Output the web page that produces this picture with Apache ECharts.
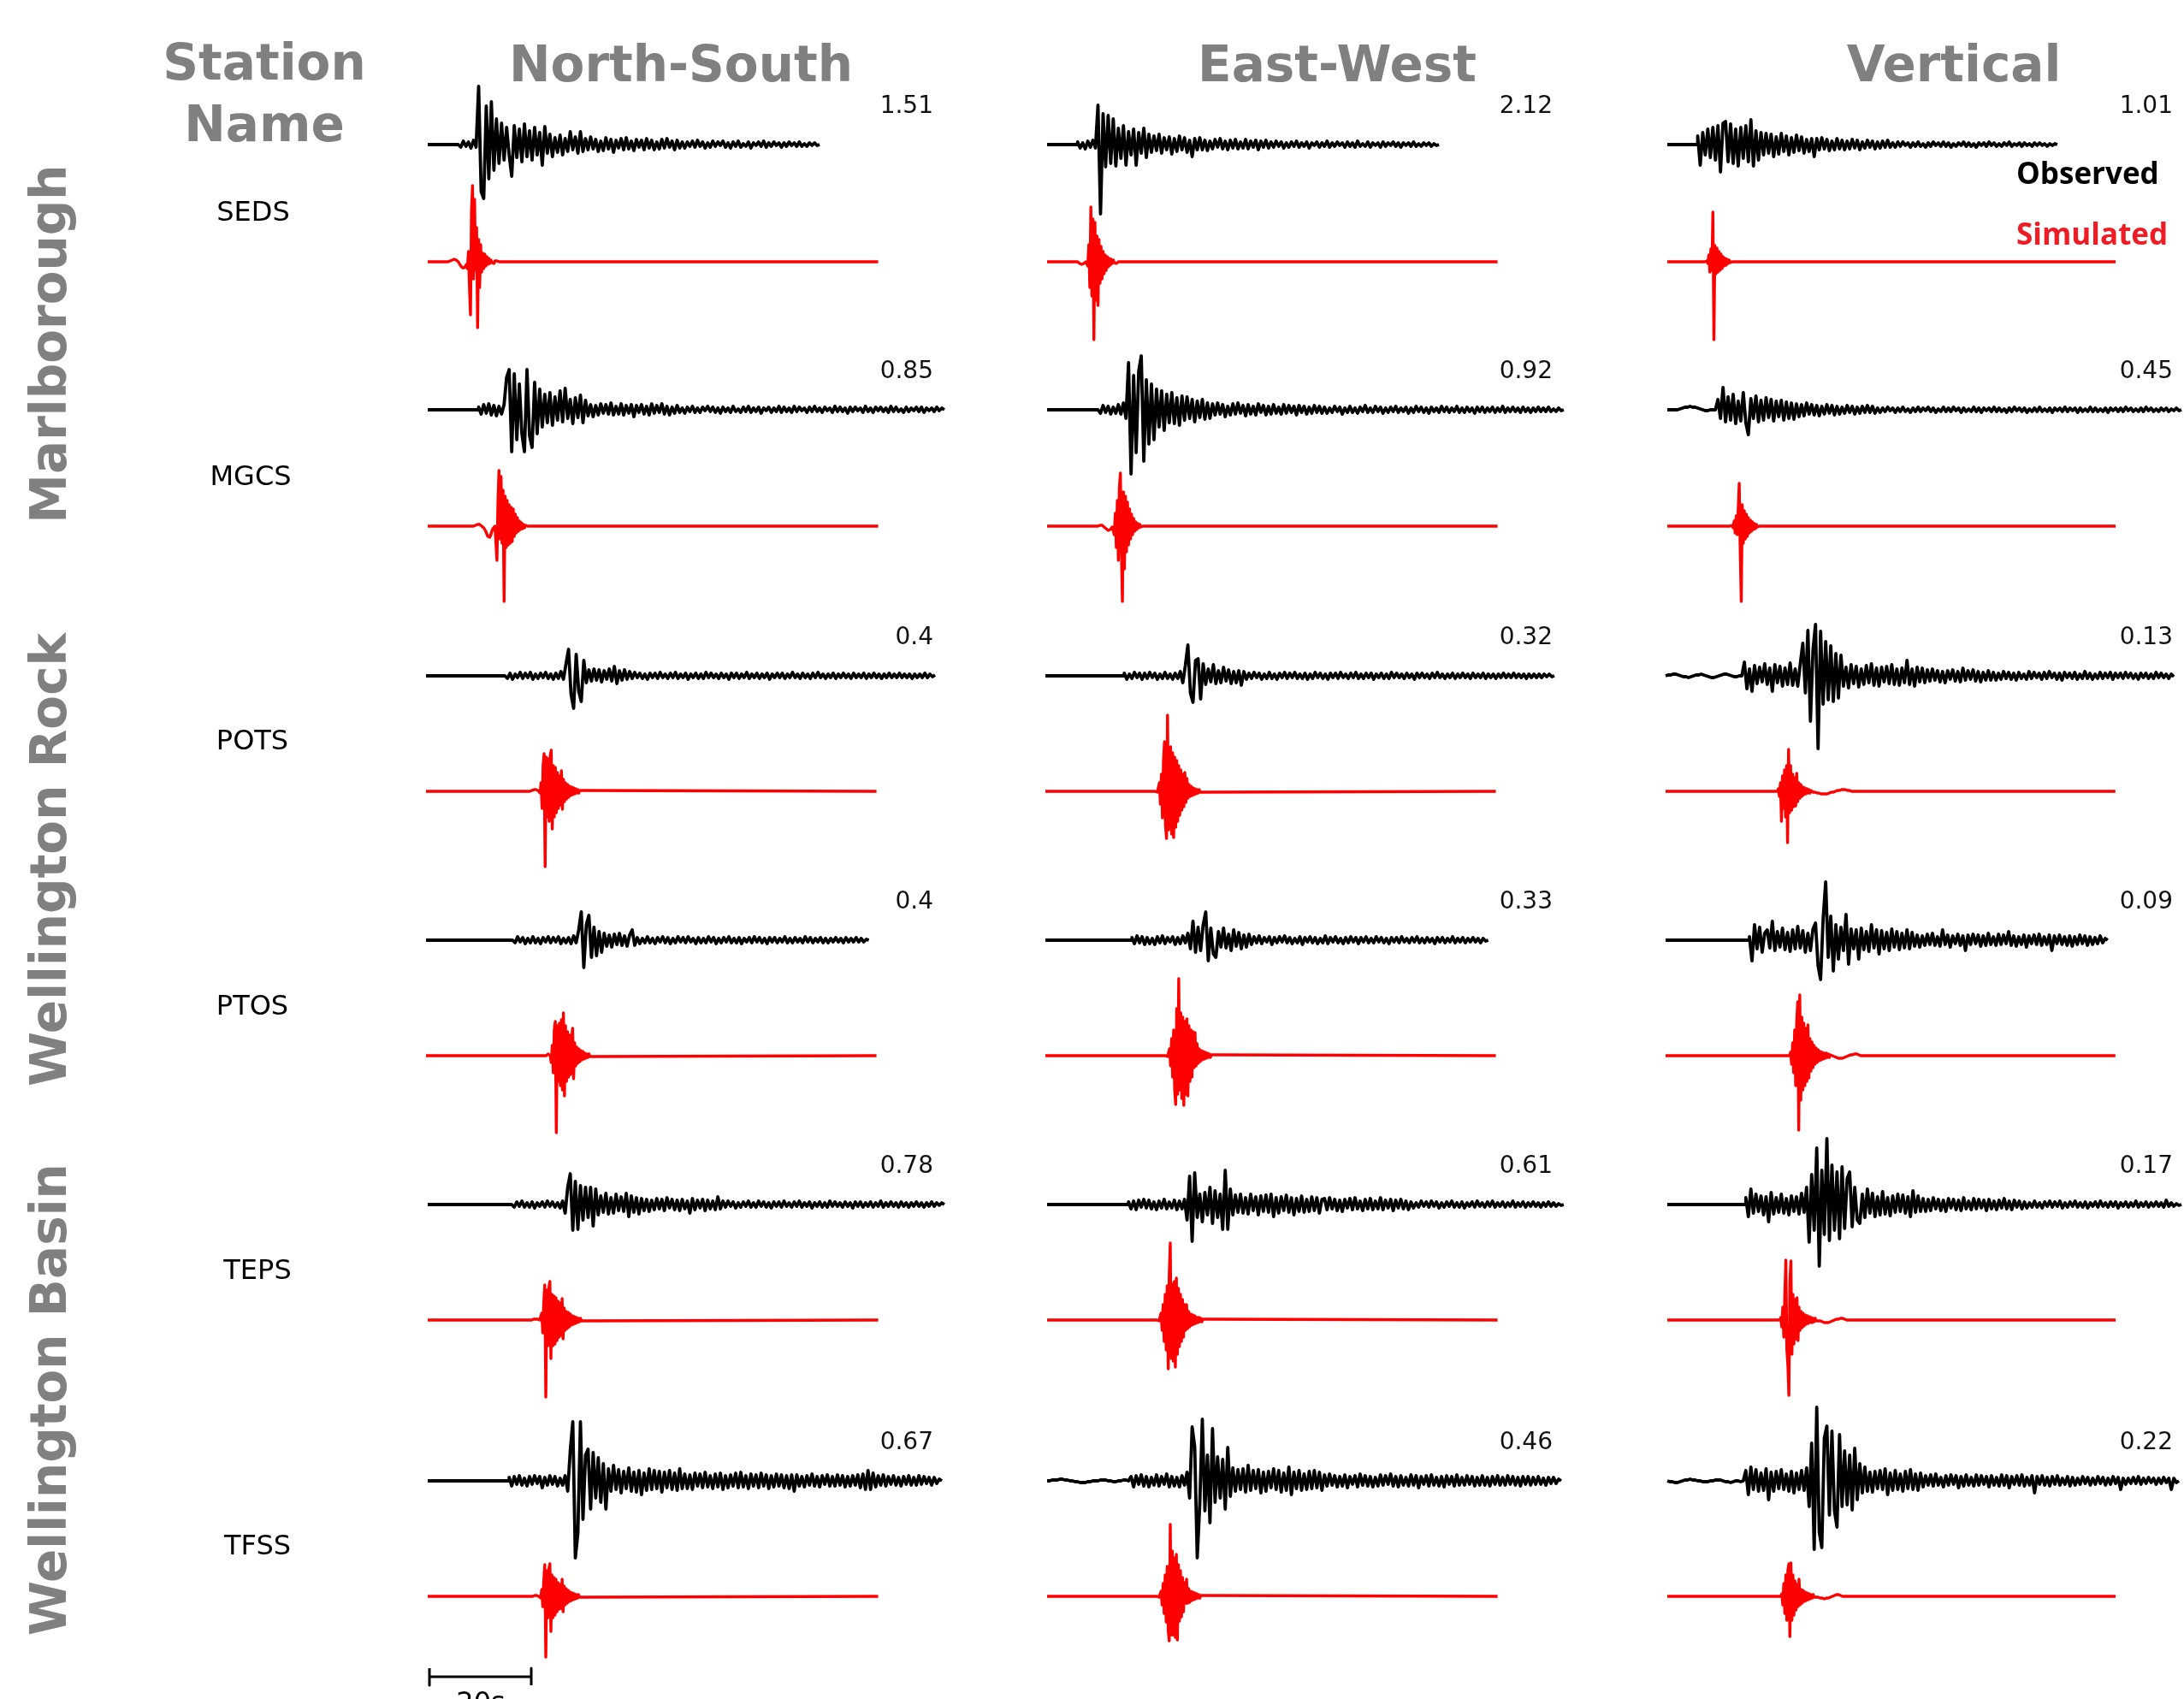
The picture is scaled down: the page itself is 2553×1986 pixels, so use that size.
<!DOCTYPE html>
<html><head><meta charset="utf-8">
<script src="https://cdn.jsdelivr.net/npm/echarts/dist/echarts.min.js"></script>
<style>html,body{margin:0;padding:0;background:#fff;overflow:hidden}#c{width:2553px;height:1986px}</style>
</head><body><div id="c"></div><script>
// ---------------- data ----------------
const stations = ['SEDS','MGCS','POTS','PTOS','TEPS','TFSS'];
const components = ['North-South','East-West','Vertical'];
const regionNames = ['Marlborough','Wellington Rock','Wellington Basin'];
const peakLabels = [['1.51','2.12','1.01'],['0.85','0.92','0.45'],['0.4','0.32','0.13'],['0.4','0.33','0.09'],['0.78','0.61','0.17'],['0.67','0.46','0.22']];
const OBS_DT = 0.5, SIM_DT = 0.2, SIM_END = 88.5, SCALE_BAR_S = 20;
// start time (s) of each trace's sample array [NS, EW, Z]
const obsStart = [[6,6,6],[10,10,2],[15.5,15.5,0],[17,17,16.5],[16.5,16,15.5],[16,0,0]];
const simStart = [[4,6,7],[9,10,12],[20.4,21.6,22],[23.6,23.6,24.4],[20.4,21.6,22.2],[20.6,21.6,22.4]];

// observed traces (dt 0.5 s)
const obsSEDS_NS = [2,-3,4,-2,3,-4,5,-3,68,-55,-63,45,-40,50,-30,30,-22,25,-18,20,-12,-37,22,-15,18,-20,24,-14,16,-18,20,-12,14,-24,21,-10,12,-14,8,-9,11,-12,7,-8,15,-6,9,-10,15,-8,7,-6,9,-5,6,-8,4,-7,8,-5,6,-9,5,-4,7,-6,8,-5,4,-7,6,-3,5,-6,7,-4,5,-6,3,-5,6,-4,7,-3,4,-6,5,-4,3,-4,3,-2,4,-3,5,-2,3,-4,2,-3,4,-2,3,-1,4,-3,2,-4,3,-2,4,-3,1,-2,3,-4,2,-1,3,-2,4,-3,2,-2,3,-1,2,-3,2,-2,3,-1,2,-2,3,-2,1,-2,2,-1,2,-1,0];
const obsSEDS_EW = [3,-4,2,-5,4,-3,5,-4,46,-81,36,-26,34,-22,30,-25,19,-16,22,-24,15,-12,18,-24,14,-10,19,-15,12,-9,10,-7,12,-10,8,-6,9,-11,7,-8,10,-6,8,-9,5,-14,7,-6,8,-6,5,-7,4,-5,6,-3,7,-5,4,-6,5,-4,6,-5,3,-4,6,-5,4,-3,5,-6,4,-3,5,-4,3,-3,4,-2,3,-4,2,-3,3,-2,4,-3,2,-2,3,-4,2,-1,3,-3,2,-2,4,-3,2,-2,3,-1,2,-3,3,-2,2,-3,4,-2,1,-2,3,-3,2,-1,2,-3,3,-2,2,-1,3,-2,2,-3,2,-1,2,-2,3,-2,1,-2,2,-1,2,-2,1,-1,0];
const obsSEDS_Z = [10,-24,14,-12,18,-15,20,-18,22,-32,25,27,-20,24,-22,18,-25,20,-16,22,-20,29,-25,16,-18,14,-12,13,-10,12,-14,9,-11,13,-8,10,-12,8,-9,11,-7,9,-10,6,-8,7,-14,7,-6,8,-5,6,-7,4,-6,7,-5,5,-6,4,-5,6,-4,5,-6,3,-4,5,-3,4,-5,3,-4,4,-3,5,-3,2,-3,3,-2,3,-1,2,-3,2,-2,3,-2,1,-3,2,-2,3,-1,2,-2,3,-2,2,-3,1,-2,2,-1,3,-2,2,-2,1,-3,2,-1,2,-2,3,-1,2,-2,1,-2,2,-1,3,-2,1,-1,2,-2,2,-1,1,-2,2,-1,2,-1,1,-2,1,-1,1,0];
const obsMGCS_NS = [3,-5,6,-4,7,-6,5,-7,4,-5,6,38,47,-49,42,-35,30,-28,-49,47,-30,-44,32,-28,24,-20,18,-15,20,-18,15,-12,22,-14,25,-10,12,-16,14,-9,17,-15,11,-7,6,-8,5,-6,7,-4,6,-5,8,-6,4,-5,7,-6,5,-4,6,-8,5,-3,6,-5,4,-6,7,-4,5,-3,7,-5,4,-6,3,-4,5,-3,2,-4,3,-2,4,-3,2,-3,3,-1,4,-2,3,-3,2,-4,3,-2,2,-3,4,-2,1,-3,3,-2,4,-3,2,-2,3,-4,2,-1,3,-3,2,-2,4,-3,3,-2,2,-3,4,-2,3,-1,2,-3,3,-2,4,-2,2,-3,3,-1,2,-3,4,-2,3,-2,2,-4,3,-2,3,-1,2,-3,4,-2,2,-3,3,-1,3,-2,2,-3,4,-2,3,-2,1,-3,3,-2,2,-1,3,-2,3,-3,2,-1,2,-2,3,-1,2,0];
const obsMGCS_EW = [2,-4,5,-3,4,-5,3,-4,6,-5,8,-10,55,-75,40,-50,45,63,-60,35,-40,30,-35,24,-20,22,-24,18,-15,20,-16,14,-18,16,-12,15,-10,12,-14,10,-9,12,-11,8,-10,7,-6,8,-5,6,-8,4,-6,7,-5,8,-4,5,-7,6,-5,4,-6,7,-3,5,-6,4,-5,6,-4,3,-5,6,-4,5,-3,4,-6,5,-3,4,-5,3,-4,5,-3,4,-4,3,-4,2,-3,4,-2,3,-5,2,-3,4,-3,2,-4,3,-2,5,-3,2,-3,4,-2,3,-4,2,-3,3,-2,4,-3,2,-2,3,-4,2,-3,4,-2,3,-3,2,-4,3,-2,2,-3,4,-2,3,-3,2,-2,4,-3,2,-3,3,-2,2,-4,3,-2,3,-3,2,-2,3,-3,2,-2,4,-3,2,-2,3,-2,2,-3,3,-2,2,-3,2,-2,3,-2,2,-2,3,-2,1,-2,2,-1,0];
const obsMGCS_Z = [0,1,2,3,3,4,3,3,2,1,0,-1,-1,0,0,0,12,-10,26,-14,15,-12,18,-16,10,-13,20,-15,-29,13,-10,16,-14,11,-12,14,-9,12,-13,10,-8,11,-12,9,-10,8,-11,7,-8,6,-7,8,-5,6,-6,5,-7,4,-5,6,-4,5,-6,4,-5,3,-4,5,-3,4,-5,3,-4,4,-3,5,-3,4,-4,2,-3,2,-2,3,-1,2,-3,2,-2,3,-2,1,-3,2,-2,3,-2,2,-1,3,-2,2,-3,1,-2,3,-2,2,-2,3,-1,2,-3,2,-2,1,-2,3,-2,2,-3,2,-1,2,-2,3,-2,2,-2,1,-3,2,-2,3,-1,2,-2,2,-3,1,-2,2,-2,3,-2,1,-2,2,-3,2,-1,2,-2,3,-2,2,-1,2,-3,2,-2,1,-2,3,-2,2,-2,1,-2,2,-3,2,-1,2,-2,2,-2,3,-1,2,-2,1,-2,2,-2,3,-1,2,-2,1,-2,2,-1,2,-2,1,-1,2,-1,0];
const obsPOTS_NS = [2,-3,3,-4,2,-2,4,-3,3,-2,4,-4,2,-3,3,-2,4,-3,2,-4,3,-3,5,-4,14,31,-22,-38,25,-18,-30,18,-8,7,-6,8,-5,7,-7,6,-4,8,-6,11,-9,6,-5,7,-4,5,-3,4,-2,3,-3,2,-4,3,-2,3,-3,4,-2,2,-3,3,-2,4,-3,2,-2,3,-4,2,-2,3,-3,2,-3,4,-2,3,-2,2,-3,3,-2,2,-4,3,-2,3,-3,2,-2,4,-3,2,-2,3,-3,2,-2,3,-4,2,-2,3,-2,3,-3,2,-2,4,-2,2,-3,3,-2,2,-3,3,-2,4,-2,2,-3,2,-2,3,-3,2,-2,3,-2,2,-3,3,-2,2,-2,3,-3,2,-2,3,-2,2,-3,2,-2,3,-2,2,-2,3,-2,2,-2,2,-3,2,-2,2,-2,3,-2,2,-1,1];
const obsPOTS_EW = [3,-4,2,-3,4,-2,3,-4,3,-3,4,-2,3,-4,2,-3,4,-3,2,-4,3,-3,5,-8,12,36,-20,-31,18,20,-27,14,-10,8,-7,13,-9,6,-8,10,-6,7,-9,5,-8,6,-11,5,-4,3,-3,4,-2,3,-4,2,-3,4,-3,2,-4,3,-2,4,-3,3,-2,4,-3,2,-3,3,-4,2,-3,4,-2,3,-3,2,-4,3,-2,3,-3,4,-2,2,-3,3,-2,4,-3,2,-3,3,-2,3,-4,2,-2,3,-3,2,-3,4,-2,3,-2,2,-3,3,-2,2,-4,3,-2,3,-2,2,-3,3,-2,4,-2,2,-3,2,-2,3,-3,2,-2,3,-2,2,-3,3,-2,2,-2,3,-3,2,-2,2,-3,2,-2,3,-2,2,-2,3,-2,2,-2,2,-3,2,-2,2,-2,2,-2,2,-1,2,-1,0];
const obsPOTS_Z = [0,1,1,2,2,1,0,-1,-1,-2,-1,0,1,1,2,1,0,-1,-2,-2,-1,0,1,2,2,1,0,-1,-1,0,0,16,-15,8,-18,12,-9,10,-7,14,-10,9,-18,13,-8,11,-12,9,-10,15,-11,8,-12,14,38,-20,53,-53,30,60,-85,52,-33,40,-28,35,-30,26,-26,24,-12,10,-14,13,-9,11,-13,8,-10,12,-8,14,-11,9,-12,10,-7,11,-9,13,-10,8,-11,9,-8,18,-10,8,-12,10,-7,9,-8,7,-6,8,-5,6,-7,5,-8,6,-4,7,-6,5,-7,9,-5,6,-4,7,-6,5,-7,4,-5,6,-5,4,-5,3,-4,5,-3,4,-4,3,-5,4,-3,2,-4,5,-3,4,-2,3,-4,4,-3,5,-2,3,-4,3,-5,4,-2,3,-3,4,-4,2,-3,5,-3,3,-4,2,-3,4,-3,3,-2,4,-4,3,-2,3,-3,4,-2,3,-3,2,-4,3,-2,3,-3,2,-3,4,-2,3,-2,2,-3,2,-1];
const obsPTOS_NS = [2,-3,4,-2,3,-4,2,-3,4,-3,2,-4,3,-2,4,-3,3,-2,4,-4,2,-3,3,-4,5,-3,12,33,-32,18,29,-20,15,-18,10,-14,8,-7,6,-8,7,-5,8,-6,5,-7,6,12,-6,3,-4,2,-3,4,-3,2,-4,3,-2,4,-3,3,-4,2,-3,4,-2,3,-3,4,-2,2,-4,3,-3,2,-3,4,-2,3,-4,2,-3,3,-2,4,-3,2,-3,3,-4,2,-2,3,-3,4,-2,3,-3,2,-4,3,-2,3,-3,2,-2,4,-3,2,-3,3,-2,2,-3,4,-2,3,-3,2,-2,3,-3,2,-3,2,-2,3,-2,2,-3,3,-2,2,-2,3,-2,2,-2,1,0];
const obsPTOS_EW = [3,-4,5,-3,4,-5,3,-4,2,-5,4,-3,5,-4,3,-2,4,-5,3,-4,5,-3,8,-10,22,-14,15,-12,18,33,-24,14,-16,-20,10,-8,14,-9,7,-12,12,-7,9,-10,6,-8,7,-5,4,-3,5,-4,3,-2,4,-5,3,-3,4,-2,5,-3,3,-4,2,-3,4,-5,3,-2,4,-3,3,-4,2,-3,5,-4,3,-2,4,-3,2,-4,3,-3,4,-2,3,-4,3,-2,4,-3,2,-3,4,-2,3,-3,2,-4,3,-2,3,-3,4,-2,2,-3,3,-2,4,-3,2,-3,3,-2,2,-4,3,-2,3,-3,2,-2,4,-3,2,-2,3,-3,2,-2,3,-2,2,-3,2,-1,0];
const obsPTOS_Z = [4,-24,18,-10,15,-14,8,12,-9,22,-12,10,-8,14,-11,9,-13,12,-10,16,-9,11,-14,8,-12,13,20,-30,-46,25,68,-20,28,-36,18,-22,15,-12,30,-28,13,-10,12,-22,14,-11,10,-13,18,-9,12,-16,11,-10,9,-12,13,-8,10,-11,8,-9,12,-10,9,-7,6,-8,5,-6,7,-5,8,-6,4,-7,12,-5,6,-8,5,-4,7,-6,5,-12,6,-5,7,-4,6,-7,5,-6,8,-5,4,-6,7,-5,6,-4,10,-6,5,-7,4,-5,6,-8,5,-4,6,-5,7,-6,4,-5,6,-12,5,-4,6,-5,4,-6,5,-7,4,-5,6,-4,5,-6,4,-5,3,-4,5,-3,2,0];
const obsTEPS_NS = [2,-3,3,-2,4,-3,2,-3,3,-4,2,-2,3,-3,4,-2,3,-3,2,-4,4,-10,20,36,-30,27,-29,22,-18,20,-15,20,-25,18,-12,10,-9,13,-11,8,-10,12,-7,9,-8,13,-14,10,-9,8,-11,7,-7,6,-8,5,-6,7,-5,6,-7,8,-4,6,-6,5,-7,6,-5,4,-10,7,-6,5,-4,6,-7,5,-5,4,-6,9,-5,4,-3,4,-2,3,-4,2,-3,3,-2,4,-3,2,-3,4,-2,3,-3,2,-4,3,-2,3,-3,4,-2,2,-3,3,-2,4,-3,2,-2,3,-4,2,-2,3,-3,2,-3,4,-2,3,-2,2,-3,3,-2,2,-4,3,-2,3,-3,2,-2,3,-3,2,-2,4,-3,2,-2,3,-2,2,-3,3,-2,2,-3,2,-2,3,-2,2,-3,2,-2,3,-2,2,-1,2,0];
const obsTEPS_EW = [3,-5,4,-6,5,-3,6,-4,5,-5,3,-6,4,-4,6,-5,3,-4,5,-6,4,-5,6,-18,33,-43,37,-15,12,-20,14,-12,20,-22,16,-15,12,-29,40,-29,18,-12,11,-9,12,-10,8,-11,12,-7,9,-12,10,-8,11,-9,12,-14,8,-10,9,-7,11,-9,8,-12,7,-8,10,-9,6,-8,9,-7,8,-10,6,7,-6,8,-5,6,-7,5,-8,6,-4,7,-6,8,-5,4,-7,6,-5,7,-6,4,-5,8,-6,5,-4,6,-7,5,-4,6,-5,4,-6,3,-4,2,-3,4,-2,3,-3,4,-2,3,-4,2,-3,3,-2,4,-3,2,-3,3,-4,2,-2,3,-3,4,-2,2,-3,3,-2,4,-3,2,-2,3,-3,2,-2,4,-3,2,-2,3,-3,2,-2,3,-2,2,-3,2,-2,3,-2,2,-2,1,-1,0];
const obsTEPS_Z = [8,-14,18,-10,12,-8,10,-12,9,-20,14,-11,8,-9,12,-10,7,-12,10,-8,9,-11,13,-9,20,-44,35,-30,66,-72,40,-35,77,-42,46,-30,38,-40,44,-28,30,38,-26,20,-18,-22,12,-15,18,-10,13,-14,9,-12,15,-11,8,-13,10,-9,12,-8,11,-10,9,-14,16,-9,10,-8,7,-8,6,-7,8,-5,6,-7,5,-8,7,-4,6,-6,5,-7,8,-5,4,-6,7,-5,6,-4,5,-7,6,-5,4,-6,5,-4,7,-5,4,-6,5,-3,4,-5,3,-4,2,-3,4,-3,2,-4,3,-2,4,-3,3,-2,4,-4,2,-3,3,-2,4,-3,2,-3,3,-4,2,-2,3,-3,4,-2,2,-3,3,-2,3,-4,2,-2,3,-3,2,-2,4,-3,2,-2,3,-3,2,-2,3,-2,2,-3,5,-2,2,-2,1,-1,0];
const obsTFSS_NS = [4,-6,5,-4,6,-5,3,-6,5,-4,6,-3,5,-8,4,-5,6,-4,5,-6,3,-5,6,-12,35,69,-90,-61,69,-45,30,37,-33,33,-20,27,-25,20,-33,14,-12,18,-10,13,-14,11,-9,15,-12,10,-13,12,-16,9,-11,14,-10,12,-9,11,-13,10,-8,12,-10,9,-11,14,-9,8,-9,7,-10,9,-6,8,-8,10,-7,6,-9,8,-7,9,-10,6,-8,7,-6,9,-8,10,-7,6,-9,8,-6,7,-8,9,-6,7,-9,6,-7,8,-6,7,-8,6,-9,7,-12,7,-6,5,-7,6,-5,8,-6,5,-7,6,-4,7,-6,5,-6,7,-5,6,-7,5,-6,6,-5,7,-8,8,-10,12,-10,9,-7,6,-5,7,-6,5,-4,6,-5,4,-6,5,-4,6,-5,4,-5,6,-4,5,-3,4,-5,4,-3,2,0];
const obsTFSS_EW = [0,0,1,1,1,2,2,1,1,0,0,-1,-1,-2,-2,-2,-1,-1,0,0,0,1,1,1,0,0,-1,-1,0,0,1,1,0,5,-7,6,-4,7,-6,5,-7,4,-5,7,-6,5,-4,8,-7,5,-6,4,-7,6,-5,10,-20,63,40,-90,-27,72,-35,30,-49,61,-25,28,-20,25,-33,39,-18,15,-12,13,-10,14,-13,18,-11,12,-9,13,-14,10,-12,11,-8,14,-10,12,-13,9,-11,16,-16,10,-9,12,-11,8,-10,11,-9,12,-8,10,-11,7,-6,8,-5,6,-7,5,-6,7,-8,5,-4,6,-7,8,-5,6,-6,5,-7,4,-6,7,-5,6,-4,8,-6,5,-7,6,-5,4,-6,7,-5,6,-8,5,-4,6,-6,7,-5,4,-6,5,-7,6,-4,5,-6,7,-5,4,-5,6,-4,5,-6,4,-5,6,-5,4,-6,5,-4,6,-5,4,-5,6,-4,5,-5,4,-6,5,-4,5,-5,4,-4,5,-4,3,-5,4,-3,4,-3,2,0];
const obsTFSS_Z = [0,-1,-1,-2,-2,-1,0,1,1,2,1,1,0,0,-1,-1,-1,0,0,1,1,1,0,-1,-1,-2,-1,0,0,-1,0,12,-16,16,-10,13,-12,9,-11,14,-22,10,-12,11,-9,13,-10,8,-12,11,-14,9,-10,12,-11,15,-30,44,-80,86,-60,-78,50,64,-40,58,-35,-54,54,-30,35,-28,30,-34,38,-22,20,-14,16,-12,10,-13,11,-9,12,-10,14,-16,9,-11,12,-10,8,-12,11,-9,13,-10,8,-11,9,-7,6,-5,7,-6,8,-5,4,-7,6,-5,7,-4,6,-8,5,-6,7,-5,4,-6,7,-5,6,-4,5,-7,6,-5,4,-6,7,-5,6,-8,5,-4,6,-5,7,-6,4,-5,6,-14,5,-4,6,-5,4,-6,5,-4,6,-5,3,-4,5,-6,4,-5,3,-4,5,-3,4,-5,3,-4,5,-3,4,-5,3,-4,5,-3,4,-10,3,-4,3,-3,4,-3,5,-4,3,-3,4,-2,3,-4,3,-3,4,-2,3,-10,3,-2,0];

// simulated traces (dt 0.2 s)
const simSEDS_NS = [0,1,1,2,2,3,3,3,2,1,0,-2,-4,-6,-7,-8,-7,-5,-3,-8,12,-30,-62,60,89,-20,73,-10,40,-77,26,-30,20,-12,10,-8,9,-5,6,-3,4,-2,2,-1,1,-2,1,0,1,-1,0,1,0];
const simSEDS_EW = [0,-1,-2,-3,-3,-3,-2,-1,0,2,-5,20,-30,64,-40,50,-91,46,-45,30,-51,26,-25,18,-20,12,-14,8,-10,6,-6,4,-4,3,-2,2,-1,1,-2,-1,0,1,0];
const simSEDS_Z = [0,1,0,-1,1,-2,8,-12,15,-10,58,-91,19,-14,16,-12,12,-10,9,-8,6,-5,4,-4,3,-2,2,-1,1,0,-1,0];
const simMGCS_NS = [0,0,1,1,2,2,2,1,0,-1,-2,-4,-6,-9,-12,-14,-13,-10,-6,-3,-1,0,-20,-40,30,65,-15,58,-20,42,-88,35,-25,30,-22,25,-20,22,-18,20,-12,14,-8,10,-6,6,-4,4,-3,2,-2,1,-1,0];
const simMGCS_EW = [0,0,1,1,1,0,-1,-2,-3,-4,-5,-5,-4,-3,-1,0,-10,15,-25,30,-40,45,62,-30,-88,40,-50,35,-30,28,-22,20,-15,14,-10,9,-6,5,-4,3,-2,2,-1,1,0];
const simMGCS_Z = [0,1,0,-1,1,-2,6,-8,12,-10,20,50,-30,-88,25,-20,18,-15,14,-12,10,-8,7,-6,5,-4,3,-3,2,-1,1,0];
const simPOTS_NS = [0,1,1,2,2,2,2,1,1,0,-2,10,-20,30,44,-88,40,-30,38,-35,42,48,-44,30,-30,28,-25,22,-20,18,-16,24,-21,14,-12,10,-9,8,-7,6,-5,5,-4,4,-3,3,-2,2,-2,1,-1,1,0];
const simPOTS_EW = [0,-1,-1,0,10,-15,20,-31,35,58,-40,-55,89,-45,40,52,-50,45,-54,40,-42,36,-35,30,-28,25,-22,20,-18,22,-13,15,-8,8,-6,6,-5,4,-4,3,-3,2,-2,2,-1,1,-1,0];
const simPOTS_Z = [0,3,-6,10,-35,18,-20,25,-30,30,-60,49,-25,30,-22,20,-18,16,-17,21,-12,10,-8,8,-6,5,-4,4,-3,3,-2,2,-2,1,1,-1,-1,-1,-1,-2,-2,-2,-2,-3,-3,-3,-3,-3,-3,-3,-2,-2,-2,-1,-1,-1,0,0,0,1,1,1,1,2,2,2,2,2,2,1,1,1,1,0,0,0];
const simPTOS_NS = [0,1,2,2,0,-8,12,-20,30,40,-90,35,-30,38,-35,42,-40,50,-47,35,-30,28,-25,24,-22,20,32,-27,15,-12,10,-9,8,-7,6,-5,5,-4,3,-3,2,-2,2,-1,1,-1,0];
const simPTOS_EW = [0,-1,-1,0,8,-12,20,-25,30,-40,-57,55,-45,90,-40,50,-50,45,-58,40,-45,43,-47,35,-30,30,-25,28,-14,27,-12,14,-9,8,-7,6,-5,5,-4,4,-3,3,-2,2,-2,1,-1,1,0];
const simPTOS_Z = [0,4,-10,15,-20,30,-35,40,63,-87,71,-52,45,-40,38,-35,32,-30,36,-26,20,-18,16,-14,12,-10,9,-8,7,-6,5,-5,4,-4,3,-3,3,-2,2,-2,1,-1,0,-1,-1,-2,-2,-2,-3,-3,-3,-3,-3,-2,-2,-2,-1,-1,0,0,1,1,1,2,2,2,2,1,1,1,0,0,0];
const simTEPS_NS = [0,0,1,1,1,1,1,0,0,-2,8,-15,20,41,-90,35,-30,38,45,-45,30,-30,28,-28,26,-24,22,-20,20,-18,25,-22,14,-12,10,-10,9,-8,7,-6,5,-5,4,-4,3,-3,2,-2,2,-1,1,-1,0];
const simTEPS_EW = [0,-1,-1,0,8,-12,18,-25,30,-35,40,-57,53,90,-45,42,-48,45,-55,49,-40,37,-31,30,-25,24,-20,18,-12,18,-10,10,-8,7,-6,6,-5,5,-4,3,-3,3,-2,2,-2,1,-1,1,0];
const simTEPS_Z = [0,3,-8,15,-20,30,70,-35,-52,-88,45,69,-40,30,-28,24,-22,26,-24,15,-12,10,-9,8,-7,6,-5,5,-4,4,-3,3,-3,2,-2,2,-1,1,-1,0,-1,-1,-2,-2,-3,-3,-3,-3,-3,-2,-2,-2,-1,-1,0,0,1,1,1,2,2,2,2,1,1,1,0,0];
const simTFSS_NS = [0,0,1,1,1,1,0,0,-2,8,-12,18,37,-71,30,-25,32,38,-41,25,-25,22,-22,20,-18,16,-15,14,-14,20,-18,12,-10,9,-8,7,-6,5,-5,4,-4,3,-3,2,-2,2,-1,1,-1,0];
const simTFSS_EW = [0,-1,-1,0,6,-10,15,-20,25,-30,35,-40,-52,84,-45,53,-45,45,-48,49,-51,37,-29,30,-24,22,-18,16,-8,20,-8,9,-7,6,-5,5,-4,4,-3,3,-2,2,-2,1,-1,1,0];
const simTFSS_Z = [0,3,-10,15,-20,25,-28,30,38,-47,39,-28,25,-22,18,-16,14,-12,20,-10,8,-8,7,-6,5,-5,4,-4,3,-3,2,-2,2,-1,1,-1,0,-1,-1,-2,-2,-2,-3,-3,-3,-2,-2,-2,-1,-1,0,0,1,1,1,2,2,2,1,1,1,0,0];

const obsData = [[obsSEDS_NS,obsSEDS_EW,obsSEDS_Z],[obsMGCS_NS,obsMGCS_EW,obsMGCS_Z],[obsPOTS_NS,obsPOTS_EW,obsPOTS_Z],[obsPTOS_NS,obsPTOS_EW,obsPTOS_Z],[obsTEPS_NS,obsTEPS_EW,obsTEPS_Z],[obsTFSS_NS,obsTFSS_EW,obsTFSS_Z]];
const simData = [[simSEDS_NS,simSEDS_EW,simSEDS_Z],[simMGCS_NS,simMGCS_EW,simMGCS_Z],[simPOTS_NS,simPOTS_EW,simPOTS_Z],[simPTOS_NS,simPTOS_EW,simPTOS_Z],[simTEPS_NS,simTEPS_EW,simTEPS_Z],[simTFSS_NS,simTFSS_EW,simTFSS_Z]];

// ---------------- layout ----------------
const colX = [500, 1224, 1949], rowShift = [0,0,-2,-2,0,0];
const obsBase = [169,479,790,1099,1408,1731], simBase = [306,615,925,1234,1543,1866];
const PXS = 5.95, XMAX = 102, HALF = 100;
const grids = [], xAxes = [], yAxes = [], series = [];
function addTrace(left, top, h, ymax, pts, color, width) {
  const i = grids.length;
  grids.push({left: left, top: top, width: XMAX * PXS, height: h, containLabel: false});
  xAxes.push({type: 'value', gridIndex: i, min: 0, max: XMAX, show: false});
  yAxes.push({type: 'value', gridIndex: i, min: -ymax, max: ymax, show: false});
  series.push({type: 'line', xAxisIndex: i, yAxisIndex: i, data: pts, showSymbol: false, symbol: 'none',
    clip: false, silent: true, animation: false, lineStyle: {color: color, width: width, join: 'round'}});
}
for (let r = 0; r < 6; r++) {
  for (let c = 0; c < 3; c++) {
    const t0 = obsStart[r][c];
    const op = t0 > 0 ? [[0, 0], [t0, 0]] : [];
    obsData[r][c].forEach((v, k) => op.push([t0 + k * OBS_DT, v]));
    addTrace(colX[c] + rowShift[r], obsBase[r] - HALF, 2 * HALF, HALF, op, '#000000', 3.8);
    const s0 = simStart[r][c];
    const sp = [[0, 0]];
    simData[r][c].forEach((v, k) => sp.push([s0 + k * SIM_DT, v]));
    sp.push([SIM_END, 0]);
    addTrace(colX[c] + rowShift[r], simBase[r] - HALF, 2 * HALF, HALF, sp, '#ff0000', 3.4);
  }
}
// scale bar
addTrace(502, 1950, 20, 1, [[0,1],[0,-1],[0,0],[SCALE_BAR_S,0],[SCALE_BAR_S,1],[SCALE_BAR_S,-1]], '#000000', 3);

const graphic = [];
function txt(x, y, text, font, fill, align, rot) {
  graphic.push({type: 'text', x: x, y: y, rotation: rot || 0, silent: true,
    style: {text: text, font: font, fill: fill, align: align || 'center', verticalAlign: 'middle',
            textAlign: align || 'center', textVerticalAlign: 'middle'}});
}
const HF = 'bold 58px "DejaVu Sans"', GRAY = '#808080';
txt(309, 78, 'Station', HF, GRAY);
txt(309, 150, 'Name', HF, GRAY);
const headX = [796, 1563, 2284];
components.forEach((n, c) => txt(headX[c], 80, n, HF, GRAY));
const regionY = [402, 1005, 1636];
regionNames.forEach((n, i) => txt(62, regionY[i], n, HF, GRAY, 'center', Math.PI / 2));
const stX = [296, 293, 295, 295, 301, 301], stY = [250, 559, 868, 1178, 1487, 1809];
stations.forEach((n, r) => txt(stX[r], stY[r], n, '32px "DejaVu Sans"', '#000'));
for (let r = 0; r < 6; r++) for (let c = 0; c < 3; c++)
  txt(colX[c] + 591, obsBase[r] - 44, peakLabels[r][c], '28px "DejaVu Sans"', '#111', 'right');
txt(2357, 205, 'Observed', 'bold 35px "Open Sans"', '#000', 'left');
txt(2357, 276, 'Simulated', 'bold 35px "Open Sans"', '#ee1c24', 'left');
txt(562, 1992, SCALE_BAR_S + 's', '32px "DejaVu Sans"', '#000');

const chart = echarts.init(document.getElementById('c'), null, {renderer: 'canvas'});
chart.setOption({animation: false, backgroundColor: '#ffffff', grid: grids, xAxis: xAxes, yAxis: yAxes, series: series, graphic: graphic});
</script></body></html>
